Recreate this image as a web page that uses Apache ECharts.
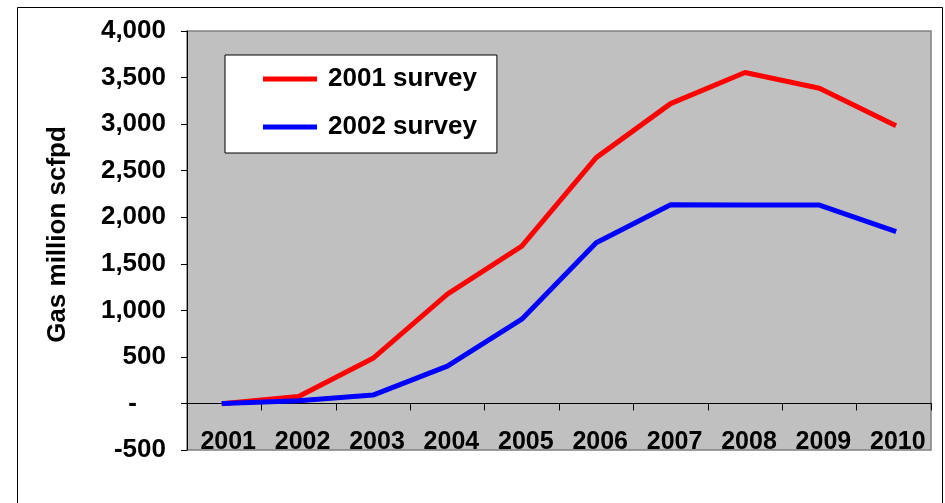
<!DOCTYPE html>
<html>
<head>
<meta charset="utf-8">
<script src="https://cdn.jsdelivr.net/npm/echarts@6/dist/echarts.min.js"></script>
<style>
html,body{margin:0;padding:0;background:#fff;}
#c{width:945px;height:503px;}
</style>
</head>
<body>
<div id="c"></div>
<script>
const years = ['2001','2002','2003','2004','2005','2006','2007','2008','2009','2010'];
const survey2001 = [0, 75, 485, 1175, 1690, 2640, 3220, 3555, 3385, 2995];
const survey2002 = [0, 30, 90, 400, 905, 1725, 2135, 2130, 2130, 1855];
const seriesNames = ['2001 survey', '2002 survey'];
const yTitle = 'Gas million scfpd';

const FONT = '"Liberation Sans", Arial, sans-serif';
const chart = echarts.init(document.getElementById('c'));
chart.setOption({
  animation: false,
  backgroundColor: '#ffffff',
  graphic: [{
    type: 'rect', z: -10,
    shape: {x: 17.5, y: 7.5, width: 925, height: 520},
    style: {fill: '#ffffff', stroke: '#000000', lineWidth: 1}
  }],
  grid: {
    left: 187, right: 14, top: 31, bottom: 53,
    show: true, backgroundColor: '#C0C0C0', borderColor: '#808080', borderWidth: 1.5
  },
  legend: {
    orient: 'vertical',
    left: 225, top: 55,
    width: 273,
    padding: [11, 20, 13, 38],
    itemGap: 22,
    itemWidth: 54, itemHeight: 5,
    icon: 'rect',
    backgroundColor: '#ffffff', borderColor: '#000000', borderWidth: 1,
    textStyle: {fontFamily: FONT, fontWeight: 'bold', fontSize: 26, color: '#000', lineHeight: 26, padding: [0, 0, 0, 6]},
    data: seriesNames
  },
  xAxis: {
    type: 'category',
    data: years,
    boundaryGap: true,
    axisLine: {onZero: true, lineStyle: {color: '#000', width: 1}},
    axisTick: {show: true, length: 7, lineStyle: {color: '#000'}},
    axisLabel: {fontFamily: FONT, fontWeight: 'bold', fontSize: 25, color: '#000', margin: -21, lineHeight: 26, padding: [0, 0, 0, 8]},
    splitLine: {show: false}
  },
  yAxis: {
    type: 'value',
    min: -500, max: 4000, interval: 500,
    name: yTitle,
    nameLocation: 'middle',
    nameGap: 116,
    nameRotate: 90,
    nameTextStyle: {fontFamily: FONT, fontWeight: 'bold', fontSize: 26, color: '#000', padding: [0, 0, 0, 12]},
    axisLine: {show: true, lineStyle: {color: '#000', width: 1}},
    axisTick: {show: true, length: 6, lineStyle: {color: '#000'}},
    axisLabel: {
      fontFamily: FONT, fontWeight: 'bold', fontSize: 26, color: '#000', margin: 21,
      formatter: function (v) {
        if (v === 0) return '{z|-}';
        return v.toLocaleString('en-US');
      },
      rich: {z: {fontFamily: FONT, fontWeight: 'bold', fontSize: 26, color: '#000', padding: [0, 29, 0, 0]}}
    },
    splitLine: {show: false}
  },
  series: [
    {name: seriesNames[0], type: 'line', data: survey2001, showSymbol: false, symbol: 'none',
     color: '#FF0000', lineStyle: {color: '#FF0000', width: 5, cap: 'square'}, z: 3},
    {name: seriesNames[1], type: 'line', data: survey2002, showSymbol: false, symbol: 'none',
     color: '#0000FF', lineStyle: {color: '#0000FF', width: 5, cap: 'square'}, z: 4}
  ]
});
</script>
</body>
</html>
